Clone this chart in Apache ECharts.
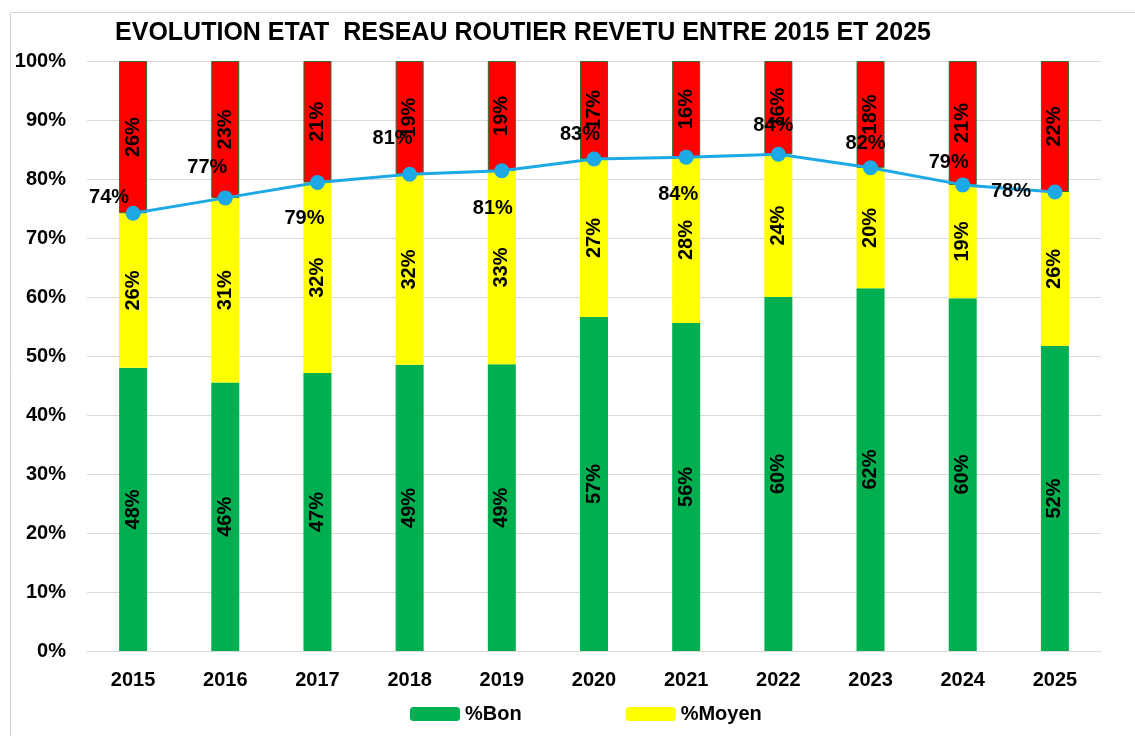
<!doctype html>
<html>
<head>
<meta charset="utf-8">
<title>Evolution etat reseau routier revetu</title>
<script src="https://cdn.jsdelivr.net/npm/echarts@6/dist/echarts.min.js"></script>
<style>
  html, body { margin: 0; padding: 0; background: #fff; }
  #main { width: 1135px; height: 736px; }
</style>
</head>
<body>
<div id="main"></div>
<script>
// annees
var annees = ['2015', '2016', '2017', '2018', '2019', '2020', '2021', '2022', '2023', '2024', '2025'];
// parts en %
var bon     = [48.0, 45.5, 47.1, 48.5, 48.6, 56.6, 55.6, 60.0, 61.5, 59.8, 51.7];
var moyen   = [26.2, 31.3, 32.3, 32.3, 32.8, 26.8, 28.1, 24.2, 20.4, 19.2, 26.1];
var mauvais = [25.8, 23.2, 20.6, 19.2, 18.6, 16.6, 16.3, 15.8, 18.1, 21.0, 22.2];
// courbe bon + moyen
var bonMoyen = [74.2, 76.8, 79.4, 80.8, 81.4, 83.4, 83.7, 84.2, 81.9, 79.0, 77.8];
// decalage des etiquettes de la courbe (style)
var decalages = [[-24, -16], [-18, -30], [-13, 36], [-17, -36], [-9, 38], [-14, -24],
                 [-8, 37], [-5, -29], [-5, -24], [-14, -22], [-44, 0]];

var police = 'Liberation Sans, Arial, sans-serif';
function pct(p) { return Math.round(p.value) + '%'; }

var labelBarre = {
  show: true, position: 'inside', rotate: 90,
  color: '#000', fontWeight: 'bold', fontSize: 20, fontFamily: police,
  formatter: pct
};

var chart = echarts.init(document.getElementById('main'));
chart.setOption({
  animation: false,
  backgroundColor: '#fff',
  graphic: [{
    type: 'rect', left: 8, top: 10,
    shape: { width: 1140, height: 740 },
    style: { fill: 'none', stroke: '#d4d4d4', lineWidth: 1 },
    z: -1
  }],
  title: {
    text: 'EVOLUTION ETAT  RESEAU ROUTIER REVETU ENTRE 2015 ET 2025',
    left: 518, textAlign: 'center', top: 16,
    textStyle: { fontFamily: 'Liberation Sans Narrow, Arial Narrow, sans-serif', fontWeight: 'bold', fontSize: 25, color: '#000' }
  },
  legend: {
    data: ['%Bon', '%Moyen'],
    left: 405, top: 699,
    itemWidth: 50, itemHeight: 14, itemGap: 104,
    textStyle: { fontFamily: police, fontWeight: 'bold', fontSize: 20, color: '#000' }
  },
  grid: { left: 87, right: 34, top: 61, bottom: 85 },
  xAxis: {
    type: 'category', data: annees,
    axisLine: { lineStyle: { color: '#d9d9d9', width: 1 } },
    axisTick: { show: false },
    axisLabel: { color: '#000', fontWeight: 'bold', fontSize: 20, fontFamily: police, margin: 19 }
  },
  yAxis: {
    type: 'value', min: 0, max: 100, interval: 10,
    axisLabel: { formatter: '{value}%', color: '#000', fontWeight: 'bold', fontSize: 20, fontFamily: police, margin: 21 },
    splitLine: { lineStyle: { color: '#d9d9d9', width: 1 } }
  },
  series: [
    {
      name: '%Bon', type: 'bar', stack: 'etat', barWidth: 28,
      data: bon, itemStyle: { color: '#00b050' }, label: labelBarre
    },
    {
      name: '%Moyen', type: 'bar', stack: 'etat',
      data: moyen, itemStyle: { color: '#ffff00' }, label: labelBarre
    },
    {
      name: '%Mauvais', type: 'bar', stack: 'etat',
      data: mauvais, itemStyle: { color: '#ff0000', borderColor: '#2e6b30', borderWidth: 1 }, label: labelBarre
    },
    {
      name: '%Bon+Moyen', type: 'line',
      data: bonMoyen.map(function (v, i) {
        return { value: v, label: { offset: decalages[i] } };
      }),
      symbol: 'circle', symbolSize: 15,
      lineStyle: { color: '#1ca9e6', width: 3 },
      itemStyle: { color: '#1ca9e6' },
      label: {
        show: true, position: 'inside',
        color: '#000', fontWeight: 'bold', fontSize: 20, fontFamily: police,
        formatter: pct
      },
      z: 5
    }
  ]
});
</script>
</body>
</html>
